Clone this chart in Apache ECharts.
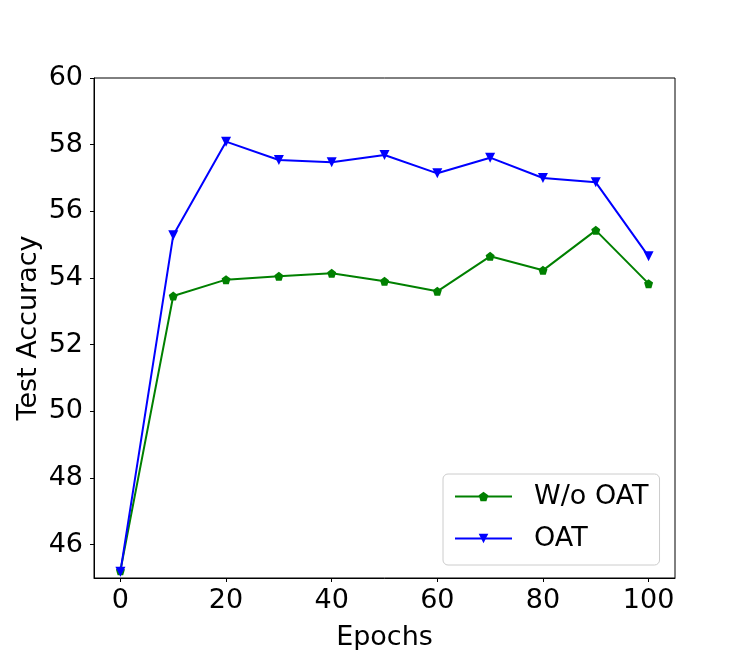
<!DOCTYPE html>
<html>
<head>
<meta charset="utf-8">
<script src="https://cdn.jsdelivr.net/npm/echarts@6/dist/echarts.min.js"></script>
<style>html,body{margin:0;padding:0;background:#fff;}#c{width:750px;height:650px;}</style>
</head>
<body>
<div id="c"></div>
<script>
var epochs = [0, 10, 20, 30, 40, 50, 60, 70, 80, 90, 100];
var woOAT = [45.22, 53.46, 53.95, 54.05, 54.14, 53.9, 53.6, 54.65, 54.23, 55.43, 53.83];
var oat = [45.19, 55.28, 58.09, 57.54, 57.47, 57.69, 57.14, 57.61, 57.0, 56.87, 54.65];
var xTicks = [0, 20, 40, 60, 80, 100];
var yTicks = [46, 48, 50, 52, 54, 56, 58, 60];

function pairs(xs, ys) { return xs.map(function (x, i) { return [x, ys[i]]; }); }

var pentagon = 'path://M0,-1 L0.951,-0.309 L0.588,0.809 L-0.588,0.809 L-0.951,-0.309 Z';
var triDown = 'path://M-1,-0.8 L1,-0.8 L0,1 Z';
var font = 'DejaVu Sans';
var fs = 27;

var chart = echarts.init(document.getElementById('c'));
chart.setOption({
  animation: false,
  backgroundColor: '#fff',
  textStyle: { fontFamily: font },
  grid: { left: 94, right: 75, top: 78, bottom: 72, show: true, borderColor: '#000', borderWidth: 1, containLabel: false, outerBoundsMode: 'none' },
  legend: {
    left: 443, top: 474, orient: 'vertical',
    padding: [9, 11, 13, 11],
    itemWidth: 57, itemHeight: 12, itemGap: 15,
    borderColor: '#cccccc', borderWidth: 1, borderRadius: 5,
    textStyle: { fontSize: fs, fontFamily: font, color: '#000', padding: [0, 0, 0, 17] },
    data: ['W/o OAT', 'OAT']
  },
  xAxis: {
    type: 'value', min: -5, max: 105,
    name: 'Epochs', nameLocation: 'middle', nameGap: 46, nameMoveOverlap: false,
    nameTextStyle: { fontSize: fs, color: '#000', fontFamily: font },
    axisLine: { show: true, onZero: false, lineStyle: { color: '#000' } },
    axisTick: { show: true, customValues: xTicks, length: 4, lineStyle: { color: '#000' } },
    axisLabel: { customValues: xTicks, fontSize: fs, color: '#000', margin: 9, fontFamily: font },
    splitLine: { show: false }
  },
  yAxis: {
    type: 'value', min: 45, max: 60,
    name: 'Test Accuracy', nameLocation: 'middle', nameGap: 52, nameMoveOverlap: false,
    nameTextStyle: { fontSize: fs, color: '#000', fontFamily: font },
    axisLine: { show: true, onZero: false, lineStyle: { color: '#000' } },
    axisTick: { show: true, customValues: yTicks, length: 4, lineStyle: { color: '#000' } },
    axisLabel: { customValues: yTicks, fontSize: fs, color: '#000', margin: 11, fontFamily: font },
    splitLine: { show: false }
  },
  series: [
    {
      name: 'W/o OAT', type: 'line', data: pairs(epochs, woOAT),
      symbol: pentagon, symbolSize: 9, showAllSymbol: true,
      lineStyle: { color: '#008000', width: 2 },
      itemStyle: { color: '#008000', borderWidth: 0 }
    },
    {
      name: 'OAT', type: 'line', data: pairs(epochs, oat),
      symbol: triDown, symbolSize: 10, showAllSymbol: true,
      lineStyle: { color: '#0000ff', width: 2 },
      itemStyle: { color: '#0000ff', borderWidth: 0 }
    }
  ]
});
</script>
</body>
</html>
